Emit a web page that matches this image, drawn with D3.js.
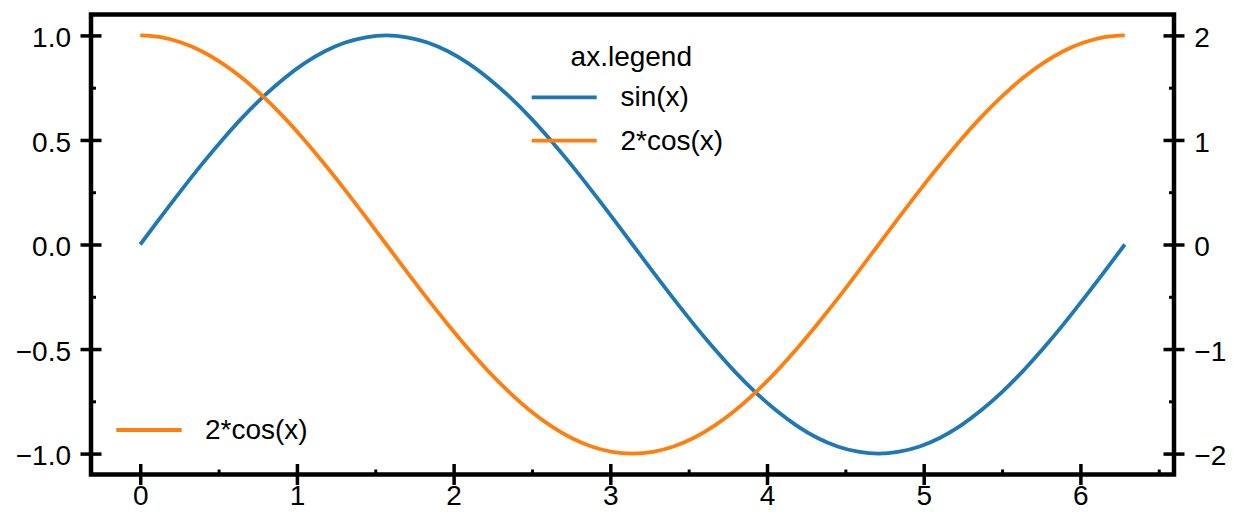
<!DOCTYPE html>
<html><head><meta charset="utf-8">
<script src="https://cdn.jsdelivr.net/npm/d3@7"></script>
<style>
html,body{margin:0;padding:0;background:#fff;}
svg{display:block;font-family:"Liberation Sans",Arial,Helvetica,sans-serif;}
</style></head>
<body>
<svg id="chart" width="1233" height="517"></svg>
<script>
// ---- data ----
const xValues = [0, 0.1309, 0.2618, 0.3927, 0.5236, 0.6545, 0.7854, 0.9163, 1.0472, 1.1781, 1.3090, 1.4399, 1.5708, 1.7017, 1.8326, 1.9635, 2.0944, 2.2253, 2.3562, 2.4871, 2.6180, 2.7489, 2.8798, 3.0107, 3.1416, 3.2725, 3.4034, 3.5343, 3.6652, 3.7961, 3.9270, 4.0579, 4.1888, 4.3197, 4.4506, 4.5815, 4.7124, 4.8433, 4.9742, 5.1051, 5.2360, 5.3669, 5.4978, 5.6287, 5.7596, 5.8905, 6.0214, 6.1523, 6.2832];
const sinValues = [0, 0.131, 0.259, 0.383, 0.500, 0.609, 0.707, 0.793, 0.866, 0.924, 0.966, 0.991, 1.000, 0.991, 0.966, 0.924, 0.866, 0.793, 0.707, 0.609, 0.500, 0.383, 0.259, 0.131, 0.000, -0.131, -0.259, -0.383, -0.500, -0.609, -0.707, -0.793, -0.866, -0.924, -0.966, -0.991, -1.000, -0.991, -0.966, -0.924, -0.866, -0.793, -0.707, -0.609, -0.500, -0.383, -0.259, -0.131, 0.000];
const cos2Values = [2.000, 1.983, 1.932, 1.848, 1.732, 1.587, 1.414, 1.218, 1.000, 0.765, 0.518, 0.261, 0.000, -0.261, -0.518, -0.765, -1.000, -1.218, -1.414, -1.587, -1.732, -1.848, -1.932, -1.983, -2.000, -1.983, -1.932, -1.848, -1.732, -1.587, -1.414, -1.218, -1.000, -0.765, -0.518, -0.261, 0.000, 0.261, 0.518, 0.765, 1.000, 1.218, 1.414, 1.587, 1.732, 1.848, 1.932, 1.983, 2.000];
const xTicks = [0, 1, 2, 3, 4, 5, 6];
const xMinorTicks = [0.5, 1.5, 2.5, 3.5, 4.5, 5.5, 6.5];
const yLeftTicks = [-1.0, -0.5, 0.0, 0.5, 1.0];
const yLeftTickLabels = ["\u22121.0", "\u22120.5", "0.0", "0.5", "1.0"];
const yLeftMinorTicks = [-0.75, -0.25, 0.25, 0.75];
const yRightTicks = [-2, -1, 0, 1, 2];
const yRightTickLabels = ["\u22122", "\u22121", "0", "1", "2"];
const yRightMinorTicks = [-1.5, -0.5, 0.5, 1.5];
const seriesNames = ["sin(x)", "2*cos(x)"];
const seriesColors = ["#1f77b4", "#ff7f0e"];
const legendTitle = "ax.legend";

// ---- layout ----
const L = 91, R = 1174, T = 14.5, B = 474.5;
const FS = 28;
const majorLen = 10.5, minorLen = 5;
const svg = d3.select("#chart");

const x = d3.scaleLinear().domain([-0.31416, 6.59734]).range([L, R]);
const yL = d3.scaleLinear().domain([-1.1, 1.1]).range([B, T]);
const yR = d3.scaleLinear().domain([-2.2, 2.2]).range([B, T]);

// curves
const lineL = d3.line().x((d, i) => x(xValues[i])).y(d => yL(d)).curve(d3.curveMonotoneX);
const lineR = d3.line().x((d, i) => x(xValues[i])).y(d => yR(d)).curve(d3.curveMonotoneX);
svg.append("path").attr("d", lineL(sinValues)).attr("fill", "none")
  .attr("stroke", seriesColors[0]).attr("stroke-width", 3.8);
svg.append("path").attr("d", lineR(cos2Values)).attr("fill", "none")
  .attr("stroke", seriesColors[1]).attr("stroke-width", 3.8);

// frame
svg.append("rect").attr("x", L).attr("y", T).attr("width", R - L).attr("height", B - T)
  .attr("fill", "none").attr("stroke", "#000").attr("stroke-width", 4.5)
  .attr("stroke-linejoin", "miter");

function styleAxis(g) {
  g.select(".domain").remove();
  g.selectAll("text").attr("font-size", FS).attr("font-family", "'Liberation Sans', Arial, sans-serif").attr("fill", "#000");
  g.selectAll(".tick line").attr("stroke", "#000").attr("stroke-width", 3.5);
}

// bottom axis
const gx = svg.append("g").attr("transform", `translate(0,${B})`)
  .call(d3.axisBottom(x).tickValues(xTicks).tickFormat(d3.format("d")).tickSize(majorLen).tickPadding(0.5));
styleAxis(gx);
gx.selectAll(".tick line").attr("y1", -majorLen).attr("y2", majorLen);
gx.selectAll(".tick text").attr("dy", "0.71em");
const gxm = svg.append("g").attr("transform", `translate(0,${B})`)
  .call(d3.axisBottom(x).tickValues(xMinorTicks).tickFormat("").tickSize(0));
gxm.select(".domain").remove();
gxm.selectAll(".tick line").attr("y1", 0).attr("y2", -minorLen).attr("stroke", "#000").attr("stroke-width", 3);

// left axis
const gl = svg.append("g").attr("transform", `translate(${L},0)`)
  .call(d3.axisLeft(yL).tickValues(yLeftTicks).tickFormat((d, i) => yLeftTickLabels[i]).tickSize(majorLen).tickPadding(9.5));
styleAxis(gl);
gl.selectAll(".tick line").attr("x1", majorLen).attr("x2", -majorLen);
gl.selectAll(".tick text").attr("dy", "0.4em");
const glm = svg.append("g").attr("transform", `translate(${L},0)`)
  .call(d3.axisLeft(yL).tickValues(yLeftMinorTicks).tickFormat("").tickSize(0));
glm.select(".domain").remove();
glm.selectAll(".tick line").attr("x1", 0).attr("x2", minorLen).attr("stroke", "#000").attr("stroke-width", 3);

// right axis
const gr = svg.append("g").attr("transform", `translate(${R},0)`)
  .call(d3.axisRight(yR).tickValues(yRightTicks).tickFormat((d, i) => yRightTickLabels[i]).tickSize(majorLen).tickPadding(9.8));
styleAxis(gr);
gr.selectAll(".tick line").attr("x1", -majorLen).attr("x2", majorLen);
gr.selectAll(".tick text").attr("dy", "0.4em");
const grm = svg.append("g").attr("transform", `translate(${R},0)`)
  .call(d3.axisRight(yR).tickValues(yRightMinorTicks).tickFormat("").tickSize(0));
grm.select(".domain").remove();
grm.selectAll(".tick line").attr("x1", 0).attr("x2", -minorLen).attr("stroke", "#000").attr("stroke-width", 3);

// legend 1 (titled)
const lg = svg.append("g");
lg.append("text").attr("x", 631.3).attr("y", 66).attr("text-anchor", "middle")
  .attr("font-size", FS).text(legendTitle);
[0, 1].forEach(i => {
  const yy = 97.3 + i * 43.4;
  lg.append("line").attr("x1", 531.7).attr("x2", 596.7).attr("y1", yy).attr("y2", yy)
    .attr("stroke", seriesColors[i]).attr("stroke-width", 3.8);
  lg.append("text").attr("x", 620.5).attr("y", yy).attr("dy", "0.32em")
    .attr("font-size", FS).text(seriesNames[i]);
});

// legend 2
const lg2 = svg.append("g");
lg2.append("line").attr("x1", 116.3).attr("x2", 181.7).attr("y1", 430).attr("y2", 430)
  .attr("stroke", seriesColors[1]).attr("stroke-width", 3.8);
lg2.append("text").attr("x", 205).attr("y", 430).attr("dy", "0.32em")
  .attr("font-size", FS).text(seriesNames[1]);
</script>
</body></html>
